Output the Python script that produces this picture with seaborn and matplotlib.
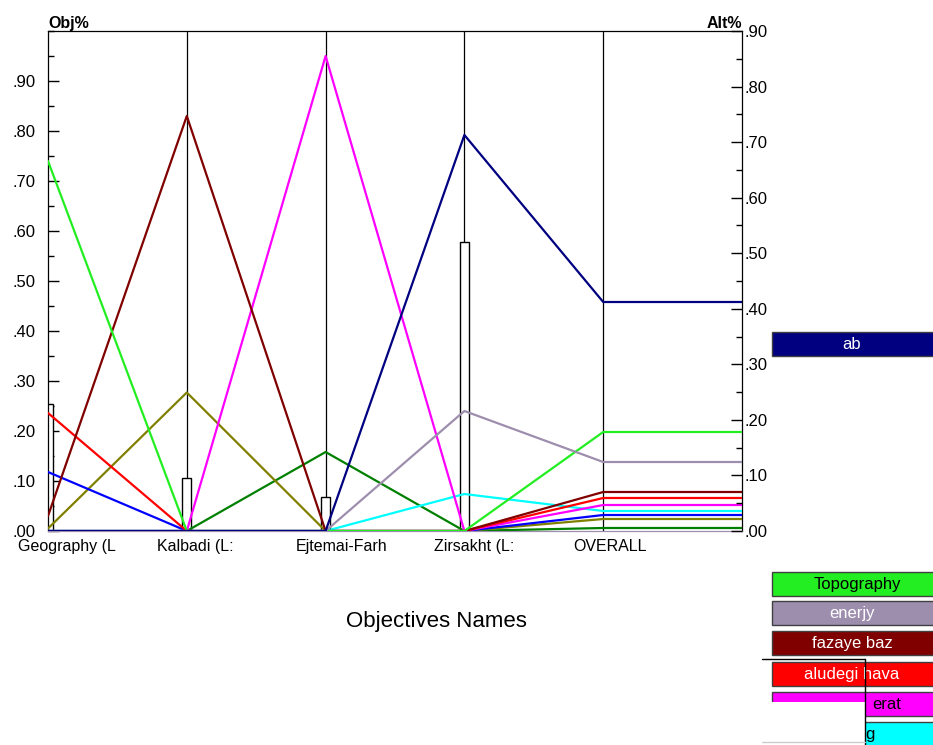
import numpy as np
import pandas as pd
import matplotlib
matplotlib.use("Agg")
import matplotlib.pyplot as plt
import matplotlib.transforms as mtransforms
from matplotlib.patches import Rectangle
from matplotlib.ticker import MultipleLocator, FuncFormatter
import seaborn as sns

# ---------------- data ----------------
criteria = ["Geography (L", "Kalbadi (L:", "Ejtemai-Farh", "Zirsakht (L:", "OVERALL"]
criteria_weights = [0.254, 0.106, 0.068, 0.578]   # Obj% bars

alternatives = ["ab", "Topography", "enerjy", "fazaye baz", "aludegi hava",
                "erat", "g", "alt8", "alt9", "alt10"]
# priority of each alternative under each criterion, then OVERALL
ab           = [0.000, 0.000, 0.000, 0.792, 0.458]
topography   = [0.740, 0.000, 0.000, 0.000, 0.198]
enerjy       = [0.000, 0.000, 0.000, 0.240, 0.138]
fazaye_baz   = [0.030, 0.830, 0.000, 0.000, 0.078]
aludegi_hava = [0.236, 0.000, 0.000, 0.000, 0.066]
erat         = [0.000, 0.000, 0.950, 0.000, 0.052]
g            = [0.000, 0.000, 0.000, 0.074, 0.040]
alt8         = [0.118, 0.000, 0.000, 0.000, 0.032]
alt9         = [0.005, 0.277, 0.000, 0.000, 0.024]
alt10        = [0.000, 0.000, 0.158, 0.000, 0.006]
series = [ab, topography, enerjy, fazaye_baz, aludegi_hava, erat, g, alt8, alt9, alt10]

colors = ["#000080", "#22EE22", "#9E8EAE", "#800000", "#FF0000",
          "#FF00FF", "#00FFFF", "#0000FF", "#808000", "#008000"]
palette = dict(zip(alternatives, colors))

legend_names = ["ab", "Topography", "enerjy", "fazaye baz", "aludegi hava", "erat", "g"]
legend_text_colors = ["white", "black", "white", "white", "white", "black", "black"]

# build long table (OVERALL value continued to right edge)
rows = []
for name, vals in zip(alternatives, series):
    ext = list(vals) + [vals[-1]]
    for i, v in enumerate(ext):
        rows.append({"alt": name, "pos": i, "val": v})
df = pd.DataFrame(rows)

# ---------------- figure ----------------
sns.set_theme(style="white")
plt.rcParams["font.family"] = ["Liberation Sans", "DejaVu Sans"]
plt.rcParams["text.color"] = "black"
plt.rcParams["xtick.color"] = "black"
plt.rcParams["ytick.color"] = "black"

fig = plt.figure(figsize=(9.33, 7.45), dpi=100)
ax = fig.add_axes([48/933, 1-531/745, 694/933, 500/745])

draw_order = ["alt10", "alt9", "alt8", "g", "erat", "aludegi hava",
              "fazaye baz", "Topography", "enerjy", "ab"]

# criterion weight bars
ax.bar(range(len(criteria_weights)), criteria_weights, width=0.065,
       color="white", edgecolor="black", linewidth=1.0, zorder=1.5)

sns.lineplot(data=df, x="pos", y="val", hue="alt", hue_order=draw_order,
             palette=palette, sort=False, estimator=None, legend=False,
             linewidth=1.6, ax=ax, zorder=3)

# vertical criterion lines
for i in range(1, len(criteria)):
    ax.axvline(i, color="black", linewidth=0.9, zorder=1)

ax.set_xlim(0, 5)
ax.set_ylim(0, 1.0)
ax.set_xlabel("")
ax.set_ylabel("")
for s in ax.spines.values():
    s.set_color("black")
    s.set_linewidth(0.9)
ax.spines["bottom"].set_color("#9E8EAE")

ax.set_xticks(range(len(criteria)))
ax.set_xticklabels(criteria, fontsize=11.5, color="black", ha="left")
ax.tick_params(axis="x", length=0, pad=6)
offset = mtransforms.ScaledTranslation(-30/100, 0, fig.dpi_scale_trans)
for lab in ax.get_xticklabels():
    lab.set_transform(lab.get_transform() + offset)

fmt = FuncFormatter(lambda v, p: f"{v:.2f}"[1:])
ax.yaxis.set_major_locator(MultipleLocator(0.1))
ax.yaxis.set_minor_locator(MultipleLocator(0.05))
ax.yaxis.set_major_formatter(fmt)
ax.set_yticks(np.arange(0, 0.91, 0.1))
ax.tick_params(axis="y", which="major", direction="in", length=8, width=1,
               pad=9, labelsize=12, left=True, color="black", labelcolor="black")
ax.tick_params(axis="y", which="minor", direction="in", length=4, width=1,
               left=True, color="black")

ax2 = ax.twinx()
ax2.set_ylim(0, 0.9)
ax2.set_yticks(np.arange(0, 0.91, 0.1))
ax2.yaxis.set_minor_locator(MultipleLocator(0.05))
ax2.yaxis.set_major_formatter(fmt)
ax2.tick_params(axis="y", which="major", direction="in", length=8, width=1,
                pad=2, labelsize=12, right=True, color="black", labelcolor="black")
ax2.tick_params(axis="y", which="minor", direction="in", length=4, width=1,
                right=True, color="black")
for s in ax2.spines.values():
    s.set_visible(False)

ax.text(0, 1.0, "Obj%", transform=ax.transAxes, ha="left", va="bottom",
        fontsize=11.5, fontweight="bold", color="black")
ax.text(1.0, 1.0, "Alt%", transform=ax.transAxes, ha="right", va="bottom",
        fontsize=11.5, fontweight="bold", color="black")

fig.text(436/933, 1-622/745, "Objectives Names", ha="center", va="center",
         fontsize=16, color="black")

# ---------------- legend boxes ----------------
lax = fig.add_axes([0, 0, 1, 1], zorder=5)
lax.set_xlim(0, 933)
lax.set_ylim(745, 0)
lax.axis("off")
box_tops = [332, 572, 601, 631, 662, 692, 722]
text_x = [852, 857, 852, 852, 852, 887, 870]
for name, top, tc, tx in zip(legend_names, box_tops, legend_text_colors, text_x):
    lax.add_patch(Rectangle((772, top), 175, 24, facecolor=palette[name],
                            edgecolor="#404040", linewidth=1))
    lax.text(tx, top + 12.5, name, ha="center", va="center", color=tc,
             fontsize=12)

# overlapping window fragment
lax.add_patch(Rectangle((762, 702), 103, 45, facecolor="white", edgecolor="none",
                        zorder=6))
lax.plot([762, 865], [659, 659], color="black", linewidth=1, zorder=7)
lax.plot([865, 865], [659, 745], color="black", linewidth=1, zorder=7)
lax.plot([762, 865], [742, 742], color="#cccccc", linewidth=1, zorder=7)

fig.savefig("out.png", dpi=100)
